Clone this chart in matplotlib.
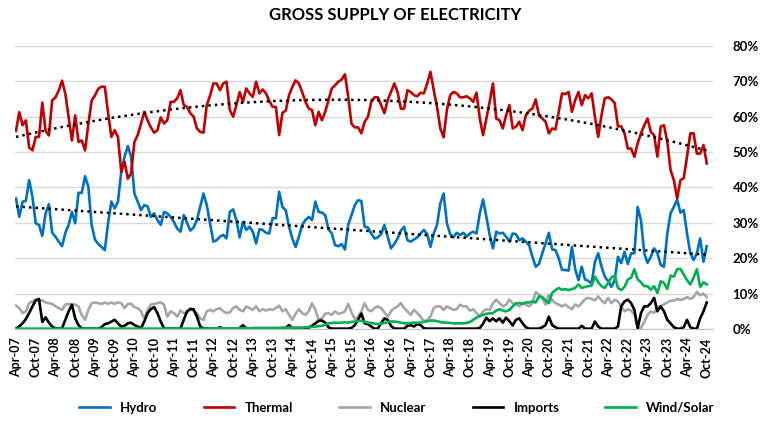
import numpy as np
import pandas as pd
import matplotlib
matplotlib.use("Agg")
import matplotlib.pyplot as plt
from matplotlib.ticker import PercentFormatter

# monthly shares of gross supply, Apr-07 .. Oct-24 (%)
months = pd.date_range("2007-04-01", "2024-10-01", freq="MS")

hydro = [
    36.9, 31.7, 36.0, 36.2, 42.1, 37.4, 29.9, 29.4, 26.3, 32.7,
    35.3, 27.2, 26.1, 24.7, 23.4, 27.2, 29.4, 33.1, 29.9, 38.5,
    38.5, 43.2, 40.2, 29.4, 25.3, 24.0, 23.2, 22.3, 30.0, 36.0,
    34.1, 36.0, 44.4, 48.7, 51.7, 48.7, 38.3, 36.0, 33.6, 35.0,
    34.7, 31.7, 32.7, 30.8, 29.4, 33.1, 32.7, 31.7, 30.3, 28.4,
    27.5, 32.2, 30.0, 27.8, 28.7, 30.8, 34.5, 38.3, 35.0, 29.9,
    24.7, 25.1, 26.1, 26.6, 25.6, 33.1, 33.8, 30.8, 25.9, 30.3,
    28.0, 28.9, 27.5, 24.2, 28.2, 28.0, 27.2, 27.0, 31.3, 31.3,
    38.8, 34.5, 33.6, 28.9, 25.6, 23.2, 26.1, 29.4, 30.8, 31.7,
    30.8, 36.0, 33.1, 32.9, 32.2, 28.2, 27.0, 23.7, 23.4, 24.0,
    22.5, 29.4, 32.2, 35.0, 36.4, 36.2, 28.9, 28.7, 27.0, 25.6,
    25.9, 26.8, 29.4, 26.1, 22.8, 24.0, 25.6, 27.8, 28.9, 25.1,
    24.7, 25.3, 25.9, 27.0, 28.0, 26.8, 23.2, 27.0, 29.4, 35.5,
    38.3, 29.9, 26.8, 25.9, 27.2, 26.6, 27.2, 26.1, 27.0, 27.5,
    27.0, 32.7, 36.6, 31.7, 26.6, 22.8, 27.5, 27.0, 27.2, 26.1,
    24.7, 27.0, 26.8, 25.1, 25.6, 24.7, 23.7, 20.4, 17.6, 18.4,
    21.4, 24.2, 27.2, 22.5, 22.3, 20.0, 16.7, 16.7, 16.5, 23.2,
    16.9, 13.8, 17.6, 14.0, 13.6, 12.9, 19.0, 21.4, 17.6, 14.8,
    13.6, 11.9, 13.8, 20.4, 18.6, 21.8, 18.4, 21.4, 21.4, 34.5,
    30.8, 21.4, 18.7, 20.4, 22.8, 21.4, 18.1, 17.6, 27.0, 32.7,
    34.5, 36.6, 32.9, 33.6, 27.0, 21.4, 19.5, 21.4, 25.6, 19.0,
    23.4,
]

thermal = [
    56.0, 61.3, 57.6, 59.0, 51.3, 50.5, 54.3, 54.3, 64.0, 56.0,
    54.7, 64.6, 65.5, 67.4, 70.2, 66.5, 60.0, 53.3, 60.4, 52.9,
    53.3, 50.5, 58.0, 64.6, 66.0, 67.9, 68.5, 68.5, 61.0, 54.3,
    56.2, 54.3, 44.4, 47.3, 42.5, 44.0, 52.9, 54.8, 58.0, 61.4,
    59.0, 57.0, 55.5, 56.2, 59.8, 58.1, 59.0, 64.2, 64.2, 65.2,
    67.5, 63.3, 62.8, 61.0, 60.0, 56.7, 55.7, 55.5, 63.3, 66.0,
    69.4, 69.4, 67.5, 69.4, 69.9, 61.9, 60.0, 63.3, 67.0, 64.2,
    68.0, 66.6, 65.6, 69.9, 66.6, 67.7, 66.6, 64.5, 62.8, 62.8,
    54.8, 61.1, 61.7, 66.1, 68.4, 70.3, 69.4, 67.0, 64.2, 62.3,
    61.9, 57.6, 61.4, 59.0, 61.4, 64.7, 68.0, 68.9, 69.9, 70.5,
    72.0, 65.6, 58.0, 57.0, 57.0, 55.3, 58.6, 60.0, 64.2, 65.5,
    65.5, 63.3, 61.0, 64.7, 67.0, 69.4, 67.0, 62.3, 62.3, 67.5,
    67.0, 66.1, 65.8, 66.8, 66.6, 69.4, 72.7, 67.5, 62.8, 56.7,
    54.2, 61.9, 66.1, 67.0, 66.6, 65.5, 65.5, 65.8, 65.2, 64.2,
    66.8, 59.5, 54.8, 59.5, 64.2, 69.4, 59.5, 59.0, 56.7, 60.4,
    63.3, 56.7, 57.2, 58.6, 56.2, 60.4, 61.7, 62.3, 64.9, 60.4,
    59.5, 58.6, 55.3, 56.7, 56.4, 61.4, 66.6, 66.4, 67.0, 61.4,
    64.7, 67.0, 63.3, 66.1, 65.2, 66.6, 60.0, 54.3, 60.4, 65.2,
    65.5, 64.9, 63.9, 57.3, 57.3, 55.3, 51.0, 51.0, 48.7, 52.5,
    55.3, 57.6, 59.5, 55.7, 54.8, 48.7, 57.2, 57.6, 52.9, 44.9,
    42.1, 36.9, 42.1, 42.6, 48.7, 55.3, 55.3, 49.6, 49.6, 52.0,
    46.8,
]

nuclear = [
    6.6, 5.9, 4.5, 5.0, 7.3, 7.8, 8.3, 7.8, 8.1, 7.5,
    7.3, 7.1, 6.4, 5.9, 5.4, 6.9, 7.1, 6.9, 6.9, 6.4,
    4.0, 2.6, 5.4, 7.3, 7.5, 7.3, 7.1, 7.5, 7.1, 7.5,
    7.1, 7.5, 7.3, 5.9, 7.1, 7.1, 6.2, 5.9, 5.0, 3.0,
    5.4, 6.9, 7.1, 7.3, 7.5, 6.9, 3.5, 5.0, 4.5, 3.5,
    5.2, 4.5, 4.5, 5.9, 5.0, 4.5, 3.0, 2.6, 5.0, 5.4,
    5.0, 5.6, 5.9, 5.0, 4.5, 4.7, 5.9, 6.4, 5.4, 5.0,
    6.4, 5.9, 5.4, 6.4, 5.0, 5.6, 5.2, 5.6, 5.4, 5.9,
    6.6, 5.0, 5.6, 4.0, 2.6, 4.3, 5.6, 4.5, 4.0, 5.0,
    7.3, 5.4, 2.6, 3.0, 4.3, 4.5, 4.0, 5.0, 4.3, 4.5,
    5.0, 7.1, 4.7, 2.8, 3.5, 5.0, 7.3, 5.4, 5.0, 5.9,
    6.4, 5.9, 4.7, 3.5, 5.0, 5.9, 6.4, 7.3, 5.9, 5.0,
    4.0, 5.4, 4.5, 3.5, 2.1, 2.6, 3.5, 5.9, 6.4, 6.4,
    5.4, 6.4, 5.9, 5.4, 5.6, 6.9, 6.4, 6.4, 5.2, 5.6,
    4.5, 3.5, 5.0, 5.6, 5.4, 7.3, 8.3, 7.3, 6.4, 6.9,
    8.3, 7.3, 6.9, 6.4, 7.3, 6.9, 6.4, 7.3, 10.4, 9.7,
    8.8, 6.9, 9.7, 8.1, 7.3, 6.9, 6.4, 6.9, 6.2, 5.6,
    6.9, 6.4, 7.3, 8.5, 8.8, 8.5, 8.1, 9.2, 8.1, 7.3,
    8.8, 7.3, 8.3, 7.8, 6.4, 5.0, 5.6, 5.2, 4.0, 0.5,
    0.3, 2.0, 4.0, 5.0, 4.5, 6.0, 6.5, 7.0, 7.5, 8.0,
    8.0, 8.5, 8.2, 8.5, 9.0, 8.5, 9.0, 10.5, 9.5, 10.0,
    9.0,
]

imports = [
    0.2, 0.7, 1.6, 2.8, 4.5, 6.4, 8.1, 8.5, 2.0, 3.3,
    1.8, 0.7, 0.2, 0.2, 0.2, 2.6, 5.0, 6.9, 3.0, 1.1,
    0.2, 0.1, 0.1, 0.1, 0.1, 0.1, 0.5, 1.4, 1.6, 2.1,
    2.6, 1.6, 0.7, 0.9, 1.6, 1.8, 1.1, 0.7, 0.2, 2.1,
    4.5, 5.6, 6.2, 4.5, 2.1, 0.2, 0.1, 0.1, 0.1, 0.1,
    0.1, 2.6, 5.0, 5.6, 5.6, 3.5, 0.7, 0.2, 0.1, 0.1,
    0.1, 0.1, 0.5, 0.1, 0.1, 0.1, 0.1, 0.1, 0.3, 1.1,
    0.2, 0.1, 0.1, 0.1, 0.1, 0.1, 0.1, 0.1, 0.1, 0.1,
    0.1, 0.1, 0.3, 1.1, 0.2, 0.1, 0.1, 0.1, 0.1, 0.4,
    0.9, 1.6, 2.3, 2.4, 1.8, 0.5, 0.1, 0.1, 0.1, 0.1,
    0.1, 0.1, 0.3, 1.1, 2.6, 4.4, 1.6, 1.4, 0.7, 0.1,
    0.1, 1.6, 3.0, 2.6, 0.9, 0.1, 0.1, 0.1, 0.1, 0.9,
    1.1, 0.7, 1.4, 1.1, 0.2, 0.1, 0.1, 0.1, 0.1, 0.1,
    0.1, 0.1, 0.1, 0.1, 0.1, 0.1, 0.1, 0.1, 0.1, 0.1,
    0.1, 0.3, 1.5, 3.2, 2.2, 3.0, 2.2, 3.0, 1.8, 3.2,
    2.2, 1.0, 2.6, 3.0, 1.6, 0.5, 0.1, 0.1, 0.1, 0.1,
    0.5, 1.1, 3.5, 1.1, 0.5, 0.1, 0.1, 0.1, 0.1, 0.1,
    0.1, 0.1, 0.9, 0.1, 0.1, 0.1, 2.1, 0.7, 0.1, 0.1,
    0.1, 0.1, 0.1, 0.7, 6.4, 7.8, 8.3, 7.3, 5.4, 0.2,
    4.5, 6.4, 6.4, 7.3, 8.8, 5.0, 6.4, 5.0, 2.6, 1.6,
    0.5, 0.1, 0.1, 0.5, 2.6, 0.5, 0.1, 0.1, 3.0, 5.0,
    7.5,
]

wind_solar = [
    0.1, 0.1, 0.1, 0.1, 0.1, 0.1, 0.1, 0.1, 0.1, 0.1,
    0.1, 0.1, 0.1, 0.1, 0.1, 0.1, 0.1, 0.1, 0.1, 0.1,
    0.1, 0.1, 0.1, 0.1, 0.1, 0.1, 0.1, 0.1, 0.1, 0.1,
    0.1, 0.1, 0.1, 0.1, 0.1, 0.1, 0.1, 0.1, 0.1, 0.1,
    0.1, 0.1, 0.1, 0.1, 0.1, 0.1, 0.1, 0.1, 0.1, 0.1,
    0.1, 0.1, 0.1, 0.1, 0.1, 0.1, 0.1, 0.1, 0.1, 0.1,
    0.2, 0.2, 0.2, 0.2, 0.2, 0.2, 0.2, 0.2, 0.2, 0.2,
    0.2, 0.2, 0.3, 0.3, 0.3, 0.3, 0.3, 0.3, 0.3, 0.3,
    0.3, 0.4, 0.4, 0.4, 0.4, 0.4, 0.4, 0.4, 0.5, 0.5,
    0.6, 0.7, 0.8, 0.9, 1.2, 1.6, 1.7, 1.8, 1.7, 1.8,
    1.9, 1.8, 2.0, 2.1, 2.3, 2.3, 2.0, 1.8, 1.7, 1.5,
    1.4, 1.5, 1.7, 1.9, 2.1, 2.1, 2.0, 1.8, 1.6, 1.6,
    1.7, 1.8, 1.8, 1.8, 2.0, 2.2, 2.4, 2.4, 2.2, 2.0,
    1.8, 1.8, 1.7, 1.6, 1.6, 1.6, 1.6, 1.7, 2.0, 2.6,
    3.2, 3.7, 4.0, 4.3, 4.4, 4.5, 5.2, 5.6, 5.2, 5.0,
    5.4, 6.4, 7.3, 7.3, 7.1, 7.5, 7.5, 7.8, 7.5, 9.2,
    9.0, 8.1, 7.3, 10.2, 11.0, 11.6, 11.1, 11.3, 11.0, 11.3,
    11.6, 12.6, 11.6, 11.9, 12.1, 12.3, 14.8, 13.2, 12.1, 11.6,
    13.0, 14.5, 15.1, 11.6, 11.0, 11.9, 14.0, 14.5, 16.9, 14.0,
    13.2, 12.1, 12.1, 11.1, 12.1, 10.2, 13.5, 13.0, 11.3, 15.1,
    14.8, 16.9, 17.0, 15.4, 13.8, 12.6, 14.5, 16.9, 11.9, 13.2,
    12.6,
]

series = [
    ("Hydro", hydro, "#0070C0"),
    ("Thermal", thermal, "#C00000"),
    ("Nuclear", nuclear, "#A6A6A6"),
    ("Imports", imports, "#000000"),
    ("Wind/Solar", wind_solar, "#00B050"),
]

plt.rcParams["font.family"] = ["Lato", "DejaVu Sans"]
plt.rcParams["font.weight"] = "bold"

fig = plt.figure(figsize=(7.61, 4.21), dpi=100)
ax = fig.add_axes([15 / 761, 92 / 421, 698 / 761, 283 / 421])

x = np.arange(len(months))
for name, vals, col in series:
    ax.plot(x, np.array(vals) / 100, color=col, lw=1.9, label=name,
            solid_joinstyle="round")

# Excel-style trendlines
for vals, deg in [(thermal, 2), (hydro, 1)]:
    coef = np.polyfit(x, np.array(vals) / 100, deg)
    ax.plot(x, np.polyval(coef, x), color="black", lw=1.8,
            linestyle=(0, (1, 1.6)))

ax.set_xlim(-0.3, 211.9)
ax.set_ylim(0, 0.8)
ax.set_yticks(np.arange(0, 0.81, 0.1))
ax.yaxis.set_major_formatter(PercentFormatter(1.0, decimals=0))
ax.yaxis.tick_right()
ax.tick_params(axis="y", length=0, pad=14, labelsize=9.5)

ticks = x[::6]
ax.set_xticks(ticks)
ax.set_xticklabels([months[i].strftime("%b-%y") for i in ticks],
                   rotation=90, fontsize=9)
ax.tick_params(axis="x", length=0, pad=6)

ax.grid(axis="y", color="#D9D9D9", lw=1)
ax.set_axisbelow(True)
for s in ["top", "left", "right"]:
    ax.spines[s].set_visible(False)
ax.spines["bottom"].set_color("#BFBFBF")

fig.text(395.5 / 761, 1 - 15 / 421, "GROSS SUPPLY OF ELECTRICITY",
         ha="center", va="center", fontsize=12, fontweight="bold")

fig.legend(ncol=5, loc="center", bbox_to_anchor=(397 / 761, 1 - 408 / 421),
           frameon=False, handlelength=2.3, columnspacing=3.5, fontsize=9.5)

fig.savefig("out.png", dpi=100)
